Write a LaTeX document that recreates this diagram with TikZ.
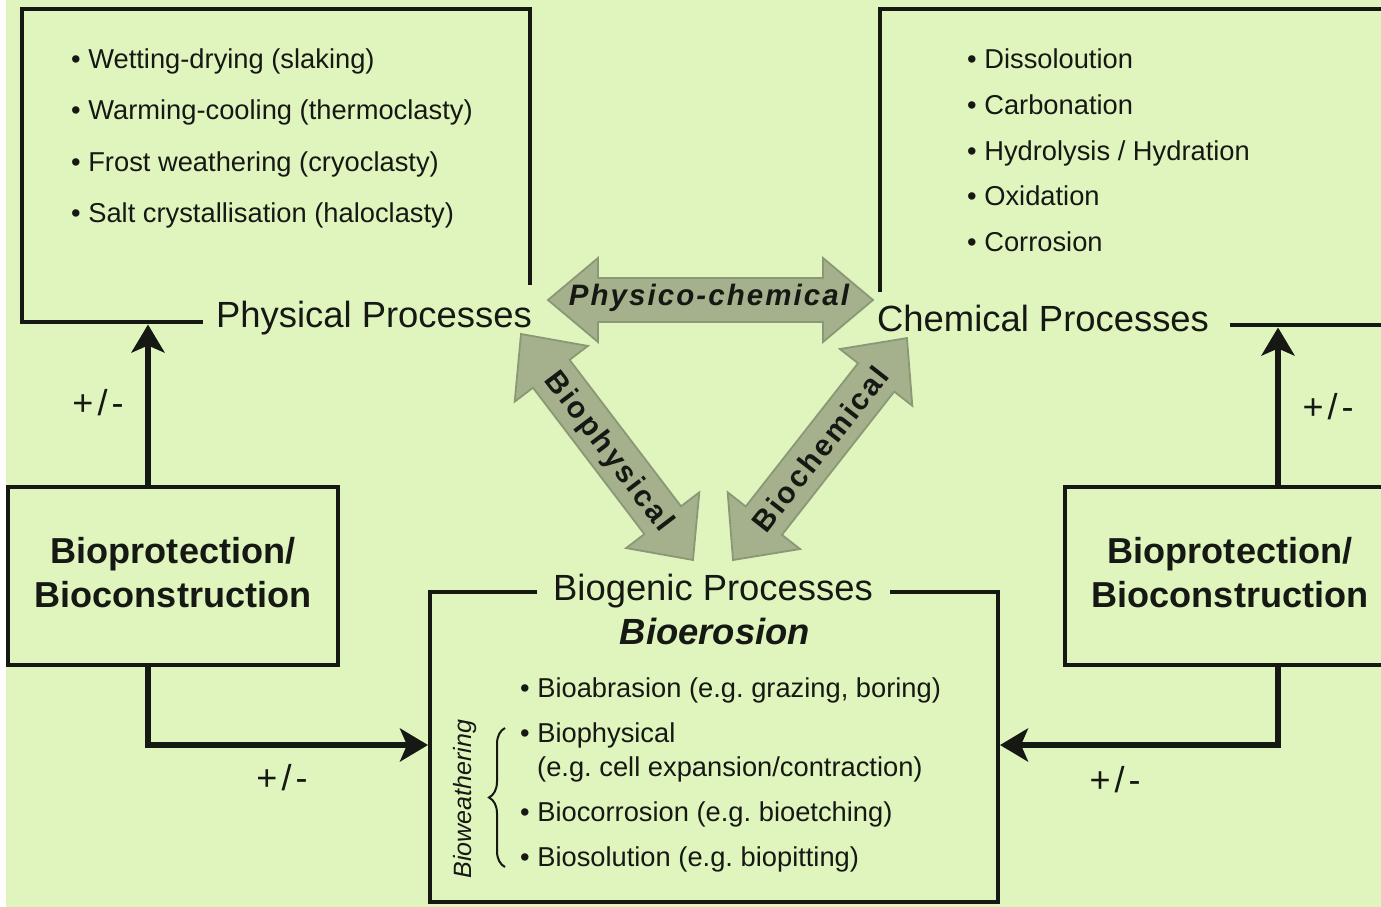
\documentclass[tikz,border=0pt]{standalone}
\usepackage{fontspec}
\setmainfont{Liberation Sans}
\usetikzlibrary{arrows.meta,decorations.pathreplacing}

\definecolor{paper}{RGB}{224,245,190}
\definecolor{ink}{RGB}{22,24,20}
\definecolor{fatfill}{RGB}{165,177,140}
\definecolor{fatedge}{RGB}{138,152,118}

\frenchspacing
\begin{document}
\begin{tikzpicture}[x=1pt,y=-1pt,
  frame/.style={draw=ink,line width=4pt},
  boxline/.style={draw=ink,line width=3.5pt},
  flow/.style={draw=ink,line width=6pt,-{Stealth[length=28pt,width=33pt,inset=7pt]}},
  fat/.style={fill=fatfill,draw=fatedge,line width=1.8pt,line join=miter},
  item/.style={anchor=base west,inner sep=0pt,text=ink,font=\fontsize{27.3}{30}\selectfont},
  heading/.style={anchor=base,inner sep=0pt,text=ink,font=\fontsize{36.4}{40}\selectfont},
  biobox/.style={boxline,minimum width=330pt,minimum height=178pt,align=center,
    text depth=8pt,text=ink,font=\bfseries\fontsize{36.1}{44}\selectfont},
  sign/.style={text=ink,inner sep=0pt,font=\fontsize{36}{38}\selectfont},
  fatlabel/.style={text=ink,inner sep=0pt,
    font=\bfseries\fontsize{30}{32}\selectfont\addfontfeatures{LetterSpace=8}},
]
\useasboundingbox (0,0) rectangle (1381,907);
\fill[white] (0,0) rectangle (1381,907);
\fill[paper] (6,0) rectangle (1381,907);

% ---------- physical processes frame ----------
\draw[frame] (203,322) -- (22,322) -- (22,9) -- (530,9) -- (530,285);
\node[heading,anchor=base west] (phys) at (216,327) {Physical Processes};
\node[item] (p1) at (71,68)  {\textbullet\ Wetting-drying (slaking)};
\node[item] (p2) at (71,119) {\textbullet\ Warming-cooling (thermoclasty)};
\node[item] (p3) at (71,171) {\textbullet\ Frost weathering (cryoclasty)};
\node[item] (p4) at (71,222) {\textbullet\ Salt crystallisation (haloclasty)};
\coordinate (physfoot) at (148,324.5);

% ---------- chemical processes frame ----------
\draw[frame] (880,292) -- (880,9) -- (1390,9);
\draw[frame] (1230,325) -- (1390,325);
\node[heading,anchor=base west] (chem) at (877,331) {Chemical Processes};
\node[item] (c1) at (967,68)  {\textbullet\ Dissoloution};
\node[item] (c2) at (967,114) {\textbullet\ Carbonation};
\node[item] (c3) at (967,160) {\textbullet\ Hydrolysis / Hydration};
\node[item] (c4) at (967,205) {\textbullet\ Oxidation};
\node[item] (c5) at (967,251) {\textbullet\ Corrosion};
\coordinate (chemfoot) at (1278,327.5);

% ---------- biogenic processes frame ----------
\draw[frame] (537,592) -- (430,592) -- (430,902) -- (998,902) -- (998,592) -- (890,592);
\node[heading] (bio) at (713,600) {Biogenic Processes};
\node[heading,font=\bfseries\itshape\fontsize{36.4}{40}\selectfont] (eros) at (715,644) {Bioerosion};
\node[item] (b1) at (520,697) {\textbullet\ Bioabrasion (e.g. grazing, boring)};
\node[item] (b2) at (520,742) {\textbullet\ Biophysical};
\node[item] (b2b) at (537,776) {(e.g. cell expansion/contraction)};
\node[item] (b3) at (520,821) {\textbullet\ Biocorrosion (e.g. bioetching)};
\node[item] (b4) at (520,866) {\textbullet\ Biosolution (e.g. biopitting)};
\node[rotate=90,text=ink,inner sep=0pt,font=\itshape\fontsize{25}{27}\selectfont] (weath) at (465,799) {Bioweathering};
\draw[ink,line width=2pt,decorate,decoration={brace,amplitude=16pt}] (505,867) -- (505,728);
\coordinate (bioL) at (428,745);
\coordinate (bioR) at (1000,745);

% ---------- bioprotection boxes and feedback arrows ----------
\node[biobox] (bpl) at (173,576) {Bioprotection/\\Bioconstruction};
\node[biobox] (bpr) at (1230,576) {Bioprotection/\\Bioconstruction};

\draw[flow] (physfoot |- bpl.north) -- (physfoot);
\draw[flow] (physfoot |- bpl.south) |- (bioL);
\draw[flow] (chemfoot |- bpr.north) -- (chemfoot);
\draw[flow] (chemfoot |- bpr.south) |- (bioR);

\node[sign] (s1) at (98,403) {+\kern4pt/\kern4pt-};
\node[sign] (s2) at (282,778) {+\kern4pt/\kern4pt-};
\node[sign] (s3) at (1328,407) {+\kern4pt/\kern4pt-};
\node[sign] (s4) at (1115,780) {+\kern4pt/\kern4pt-};

% ---------- interaction arrows between the three process groups ----------
\coordinate (pcA) at (548,300);
\coordinate (bpA) at (521,334);
\coordinate (bcA) at (733,560);

\begin{scope}[shift={(pcA)}]
  \draw[fat] (0,0) -- (50,-42) -- (50,-22) -- (275,-22) -- (275,-42) -- (325,0)
    -- (275,42) -- (275,22) -- (50,22) -- (50,42) -- cycle;
\end{scope}
\begin{scope}[shift={(bpA)},rotate=-52.73]
  \draw[fat] (0,0) -- (50,-46) -- (50,-23) -- (234,-23) -- (234,-46) -- (284,0)
    -- (234,46) -- (234,23) -- (50,23) -- (50,46) -- cycle;
\end{scope}
\begin{scope}[shift={(bcA)},rotate=51.91]
  \draw[fat] (0,0) -- (50,-46) -- (50,-23) -- (232,-23) -- (232,-46) -- (282,0)
    -- (232,46) -- (232,23) -- (50,23) -- (50,46) -- cycle;
\end{scope}

\node[fatlabel,font=\bfseries\itshape\fontsize{29.5}{32}\selectfont\addfontfeatures{LetterSpace=7}] (pclab) at (709,298) {Physico-chemical};
\node[fatlabel,rotate=-52.7] (bplab) at (608,452) {Biophysical};
\node[fatlabel,rotate=51.9] (bclab) at (820,449) {Biochemical};
\end{tikzpicture}
\end{document}
